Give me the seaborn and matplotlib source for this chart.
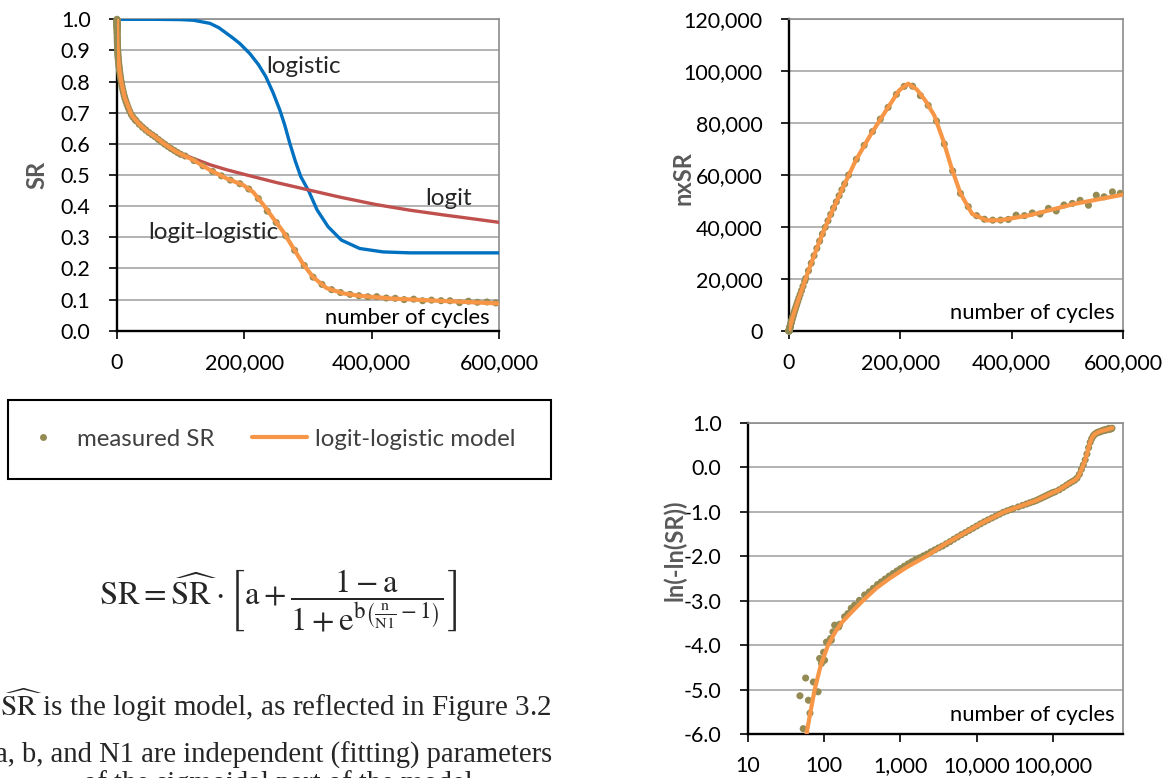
import numpy as np
import pandas as pd
import matplotlib
matplotlib.use("Agg")
import matplotlib.pyplot as plt
from matplotlib.lines import Line2D
from matplotlib.patches import Rectangle
from matplotlib.ticker import FuncFormatter, FixedLocator, NullLocator
import seaborn as sns

# ---- measured surface ratio SR over the number of load cycles ----
measured_cycles = [
    0, 48, 53, 57, 62, 65, 72, 83, 87, 92, 98, 101, 107, 112, 121, 124, 130, 137,
    155, 159, 185, 204, 226, 250, 290, 339,
    390, 440, 500, 560, 630, 710, 800, 900, 1000, 1120, 1260, 1410, 1580, 1780,
    2000, 2240, 2510, 2820, 3160, 3550, 3980, 4470, 5010, 5620, 6310, 7080, 7940,
    8910, 10000, 11220, 12590, 14130, 15850, 17780, 19950, 22390, 25120, 28180,
    30000, 35000, 40000, 45000, 50000, 55000, 60000, 65000, 70000, 75000, 80000,
    85000, 90000, 95000, 100000,
    107000, 121000, 135000, 150000, 164000, 178000, 193000, 207000, 222000,
    236000, 250000, 265000, 279000, 294000, 308000, 322000, 337000, 351000,
    366000, 380000, 394000, 408000, 423000, 437000, 451000, 466000, 480000,
    494000, 509000, 523000, 538000, 552000, 566000, 581000, 595000,
]
measured_sr = [
    1.0, 0.994159, 0.997209, 0.991299, 0.994713, 0.996041, 0.992045, 0.993611,
    0.986523, 0.987919, 0.984513, 0.987048, 0.980548, 0.980929, 0.978945,
    0.979763, 0.975579, 0.971684, 0.972778, 0.971120, 0.965861, 0.963431,
    0.958866, 0.955951, 0.950956, 0.944878,
    0.94100, 0.93624, 0.93087, 0.92669, 0.92203, 0.91701, 0.91219, 0.90728,
    0.90259, 0.89748, 0.89210, 0.88710, 0.88177, 0.87737, 0.87223, 0.86739,
    0.86108, 0.85515, 0.84903, 0.84339, 0.83605, 0.82840, 0.81962, 0.81133,
    0.80232, 0.79384, 0.78472, 0.77523, 0.76538, 0.75497, 0.74502, 0.73545,
    0.72559, 0.71544, 0.70498, 0.69447, 0.68604, 0.67822,
    0.67372, 0.66295, 0.65331, 0.64461, 0.63662, 0.62939, 0.62265, 0.61403,
    0.60620, 0.59887, 0.59176, 0.58490, 0.57860, 0.57224, 0.56647,
    0.5611, 0.5464, 0.5294, 0.5118, 0.4973, 0.4837, 0.4720, 0.4550, 0.4245,
    0.3840, 0.3475, 0.3050, 0.2580, 0.2096, 0.1720, 0.1487, 0.1318, 0.1226,
    0.1166, 0.1124, 0.1090, 0.1093, 0.1050, 0.1040, 0.0998, 0.1013, 0.0963,
    0.0982, 0.0965, 0.0962, 0.0900, 0.0947, 0.0913, 0.0922, 0.0891,
]

# ---- fitted logit-logistic model ----
model_cycles = [
    0, 50, 60, 66, 75, 90, 112, 140, 168, 230, 321, 480, 718, 1200, 2170, 3800,
    6530, 12000, 22900, 35000, 47000, 59400, 75000, 93500, 119700, 146000,
    172000, 198000, 214000, 229600, 245000, 261000, 277000, 292000, 308000,
    329000, 355000, 381000, 433000, 512000, 600000,
]
model_sr = [
    1.0, 0.99889, 0.99726, 0.99592, 0.99328, 0.98839, 0.98187, 0.97558, 0.97026,
    0.96197, 0.95143, 0.93620, 0.92117, 0.89990, 0.87342, 0.83750, 0.80001,
    0.74900, 0.69220, 0.66300, 0.64100, 0.62360, 0.59890, 0.57400, 0.54800,
    0.51600, 0.48900, 0.46800, 0.44500, 0.40500, 0.36200, 0.31800, 0.26500,
    0.21500, 0.17200, 0.13700, 0.12000, 0.11200, 0.10300, 0.09550, 0.08750,
]

# ---- logit model (SR-hat) ----
logit_cycles = [0, 2170, 6530, 22900, 59400, 93500, 120000, 146000, 172000,
                198000, 250000, 303000, 350000, 407000, 460000, 512000, 560000,
                600000]
logit_sr = [1.0, 0.8734, 0.8000, 0.6922, 0.6236, 0.5740, 0.5530, 0.5330, 0.5170,
            0.5030, 0.4760, 0.4510, 0.4290, 0.4050, 0.3870, 0.3720, 0.3590,
            0.3480]

# ---- logistic model ----
logistic_cycles = [0, 60000, 100000, 120000, 146000, 160000, 172000, 182000,
                   193000, 208600, 222000, 233700, 245000, 255700, 263500,
                   271400, 280000, 288600, 301700, 314200, 331500, 352400,
                   381100, 417700, 460000, 600000]
logistic_sr = [1.0, 1.0, 0.999, 0.997, 0.987, 0.973, 0.955, 0.940, 0.922, 0.890,
               0.855, 0.816, 0.765, 0.709, 0.660, 0.602, 0.545, 0.495, 0.446,
               0.388, 0.334, 0.291, 0.264, 0.253, 0.250, 0.250]

# ---- axis ticks ----
sr_ticks = [0.0, 0.1, 0.2, 0.3, 0.4, 0.5, 0.6, 0.7, 0.8, 0.9, 1.0]
cycle_ticks = [0, 200000, 400000, 600000]
nxsr_ticks = [0, 20000, 40000, 60000, 80000, 100000, 120000]
lnln_ticks = [-6.0, -5.0, -4.0, -3.0, -2.0, -1.0, 0.0, 1.0]
log_cycle_ticks = [10, 100, 1000, 10000, 100000]

OLIVE = "#948A54"
ORANGE = "#F79646"
BLUE = "#0070C0"
RED = "#C0504D"
GRID = "#A6A6A6"
FRAME = "#8C8C8C"
TITLE_GRAY = "#595959"

sns.set_theme(style="white")
plt.rcParams["font.family"] = ["Lato", "DejaVu Sans"]
plt.rcParams["mathtext.fontset"] = "stix"

W, H = 1167, 778
fig = plt.figure(figsize=(W / 100, H / 100), dpi=100)
fig.patch.set_facecolor("white")


def px_rect(x0, y0, x1, y1):
    return [x0 / W, 1 - y1 / H, (x1 - x0) / W, (y1 - y0) / H]


ax_sr = fig.add_axes(px_rect(117, 19.3, 499, 330.7))
ax_nx = fig.add_axes(px_rect(789, 19.3, 1123, 331))
ax_ln = fig.add_axes(px_rect(748, 423, 1123, 734))


def with_transforms(cycles, sr):
    df = pd.DataFrame({"cycles": cycles, "SR": sr})
    df["nxSR"] = df["cycles"] * df["SR"]
    with np.errstate(divide="ignore"):
        df["lnlnSR"] = np.log(-np.log(df["SR"]))
    return df


measured = with_transforms(measured_cycles, measured_sr)
model = with_transforms(model_cycles, model_sr)
logit = pd.DataFrame({"cycles": logit_cycles, "SR": logit_sr})
logistic = pd.DataFrame({"cycles": logistic_cycles, "SR": logistic_sr})


def draw_fit(ax, ycol, log_x=False):
    m, md = measured, model
    if log_x:
        m = m[(m["cycles"] > 0) & np.isfinite(m[ycol])]
        md = md[(md["cycles"] > 0) & np.isfinite(md[ycol])]
    sns.scatterplot(data=m, x="cycles", y=ycol, ax=ax, color=OLIVE, s=26,
                    edgecolor="none", linewidth=0, zorder=4, clip_on=False,
                    legend=False)
    sns.lineplot(data=md, x="cycles", y=ycol, ax=ax, color=ORANGE, lw=3.0,
                 sort=False, estimator=None, zorder=5, legend=False)


def style(ax, xlim, ylim, yticks, yfmt, xticks, xfmt, ylabel, ylabel_xy,
          xlabel_xy):
    ax.set_xlim(*xlim)
    ax.set_ylim(*ylim)
    ax.yaxis.set_major_locator(FixedLocator(yticks))
    ax.yaxis.set_major_formatter(FuncFormatter(yfmt))
    ax.xaxis.set_major_locator(FixedLocator(xticks))
    ax.xaxis.set_major_formatter(FuncFormatter(xfmt))
    ax.xaxis.set_minor_locator(NullLocator())
    ax.yaxis.set_minor_locator(NullLocator())
    ax.grid(False)
    ax.yaxis.grid(True, color=GRID, lw=1.2)
    ax.set_axisbelow(True)
    for side in ("top", "right"):
        ax.spines[side].set_color(FRAME)
        ax.spines[side].set_linewidth(1.2)
    for side in ("left", "bottom"):
        ax.spines[side].set_color("black")
        ax.spines[side].set_linewidth(1.7)
    ax.tick_params(axis="both", which="major", direction="out", length=6,
                   width=1.2, color="black", labelcolor="black",
                   labelsize=15.4, left=True, bottom=True)
    ax.tick_params(axis="y", pad=13)
    ax.tick_params(axis="x", pad=10)
    ax.set_ylabel(ylabel, fontsize=17, fontweight="bold", color=TITLE_GRAY)
    ax.yaxis.set_label_coords(*ylabel_xy)
    ax.set_xlabel("number of cycles", fontsize=15.8, color="black")
    ax.xaxis.set_label_coords(*xlabel_xy)
    ax.xaxis.label.set_ha("right")
    ax.xaxis.label.set_va("center")


# ---- SR against cycles with the three models ----
sns.lineplot(data=logistic, x="cycles", y="SR", ax=ax_sr, color=BLUE, lw=2.4,
             sort=False, estimator=None, zorder=3, legend=False)
sns.lineplot(data=logit, x="cycles", y="SR", ax=ax_sr, color=RED, lw=2.4,
             sort=False, estimator=None, zorder=3, legend=False)
draw_fit(ax_sr, "SR")
style(ax_sr, (0, 600000), (0, 1.0), sr_ticks, lambda v, p: f"{v:.1f}",
      cycle_ticks, lambda v, p: f"{v:,.0f}", "SR", (-0.1806, 0.5),
      (0.9764, 0.041))
ax_sr.text(234800, 0.847, "logistic", fontsize=17.5, va="center", ha="left")
ax_sr.text(484700, 0.424, "logit", fontsize=17.5, va="center", ha="left")
ax_sr.text(49100, 0.316, "logit-logistic", fontsize=17.5, va="center",
           ha="left")

# ---- n x SR against cycles ----
draw_fit(ax_nx, "nxSR")
style(ax_nx, (0, 600000), (0, 120000), nxsr_ticks, lambda v, p: f"{v:,.0f}",
      cycle_ticks, lambda v, p: f"{v:,.0f}", "nxSR", (-0.284, 0.49),
      (0.976, 0.057))

# ---- ln(-ln(SR)) against cycles on a log axis ----
ax_ln.set_xscale("log")
draw_fit(ax_ln, "lnlnSR", log_x=True)
style(ax_ln, (10, 830000), (-6.0, 1.0), lnln_ticks, lambda v, p: f"{v:.1f}",
      log_cycle_ticks, lambda v, p: f"{v:,.0f}", "ln(-ln(SR))", (-0.165, 0.59),
      (0.9787, 0.061))

# ---- legend ----
handles = [
    Line2D([], [], ls="none", marker="o", ms=5, color=OLIVE, mec="none"),
    Line2D([], [], color=ORANGE, lw=3.0),
]
fig.legend(handles, ["measured SR", "logit-logistic model"], loc="center left",
           bbox_to_anchor=(15 / W, 1 - 439 / H), ncol=2, frameon=False,
           fontsize=17.3, handlelength=2.3, handletextpad=0.3,
           columnspacing=1.55, borderpad=0, borderaxespad=0,
           labelcolor="#404040")
fig.add_artist(Rectangle((8 / W, 1 - 479 / H), (551 - 8) / W, (479 - 400) / H,
                         transform=fig.transFigure, fill=False, ec="black",
                         lw=1.5))

# ---- model equation and notes ----
formula = (r"$\mathrm{SR} = \widehat{\mathrm{SR}} \cdot \left[\mathrm{a} + "
           r"\dfrac{1 - \mathrm{a}}{1 + \mathrm{e}^{\mathrm{b}\left("
           r"\frac{\mathrm{n}}{\mathrm{N1}} - 1\right)}}\right]$")
fig.text(278 / W, 1 - 601 / H, formula, ha="center", va="center", fontsize=23.5)
serif = ["Liberation Serif", "DejaVu Serif"]
fig.text(276 / W, 1 - 705 / H,
         r"$\widehat{\mathrm{SR}}$ is the logit model, as reflected in Figure 3.2",
         ha="center", va="center", fontsize=21, family=serif)
fig.text(274 / W, 1 - 755 / H,
         "a, b, and N1 are independent (fitting) parameters",
         ha="center", va="center", fontsize=20.6, family=serif)
fig.text(278 / W, 1 - 791 / H, "of the sigmoidal part of the model",
         ha="center", va="baseline", fontsize=20.6, family=serif)

fig.savefig("out.png", dpi=100, facecolor="white")
